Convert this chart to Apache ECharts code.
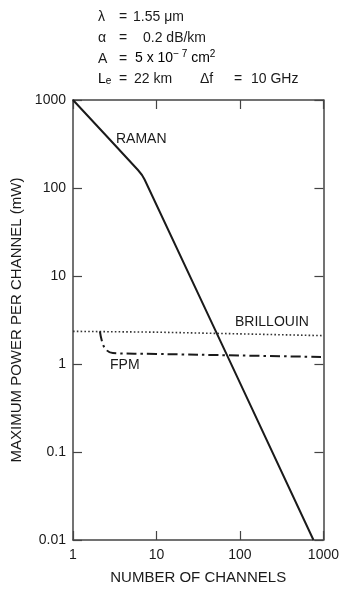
<!DOCTYPE html>
<html>
<head>
<meta charset="utf-8">
<script src="https://cdn.jsdelivr.net/npm/echarts@6/dist/echarts.min.js"></script>
<style>
  html, body { margin: 0; padding: 0; background: #fff; }
  #chart { width: 342px; height: 590px; }
</style>
</head>
<body>
<div id="chart"></div>
<script>
// 数据
const ramanN = [1, 6, 7.2, 760]
const ramanP = [1000, 160, 125, 0.01]
const brillouinN = [1, 10, 100, 1000]
const brillouinP = [2.35, 2.3, 2.2, 2.1]
const fpmN = [2.1, 2.25, 2.5, 3, 10, 100, 1000]
const fpmP = [2.35, 1.75, 1.45, 1.33, 1.3, 1.25, 1.2]
const xTicks = [1, 10, 100, 1000]
const yTicks = [0.01, 0.1, 1, 10, 100, 1000]

const FONT = '"Liberation Sans", Arial, Helvetica, sans-serif'
const INK = '#1a1a1a'
const AXIS = '#444'

function pairs(xs, ys) {
  return xs.map((x, i) => [x, ys[i]])
}

function fmt(v) {
  return String(+(+v).toPrecision(1))
}

const chart = echarts.init(document.getElementById('chart'), null, { renderer: 'canvas' })

const axisLine = { show: true, onZero: false, lineStyle: { color: AXIS, width: 1.5 } }
const tickIn = { show: true, inside: true, length: 9, lineStyle: { color: AXIS, width: 1.2 } }

// 参数文字
function paramText(x, y, text, extra) {
  return {
    type: 'text',
    left: x,
    top: y,
    style: Object.assign({
      text: text,
      font: '14px ' + FONT,
      fill: INK
    }, extra || {})
  }
}

const rich = {
  n: { fontSize: 14, fontFamily: FONT, color: INK, lineHeight: 16, verticalAlign: 'bottom' },
  sup: { fontSize: 10, fontFamily: FONT, color: INK, lineHeight: 10, verticalAlign: 'top' },
  sub: { fontSize: 10, fontFamily: FONT, color: INK, lineHeight: 10, verticalAlign: 'bottom' }
}

chart.setOption({
  animation: false,
  backgroundColor: '#fff',
  grid: { left: 73, right: 17, top: 100, bottom: 47 },
  xAxis: [
    {
      type: 'log',
      logBase: 10,
      min: 1,
      max: 1000,
      position: 'bottom',
      name: 'NUMBER OF CHANNELS',
      nameLocation: 'middle',
      nameGap: 30,
      nameTextStyle: { fontFamily: FONT, fontSize: 15, color: INK },
      axisLine: axisLine,
      axisTick: tickIn,
      minorTick: { show: false },
      splitLine: { show: false },
      axisLabel: {
        fontFamily: FONT, fontSize: 14, color: INK, margin: 8,
        customValues: xTicks, formatter: fmt
      }
    },
    {
      type: 'log',
      logBase: 10,
      min: 1,
      max: 1000,
      position: 'top',
      axisLine: axisLine,
      axisTick: tickIn,
      splitLine: { show: false },
      axisLabel: { show: false }
    }
  ],
  yAxis: [
    {
      type: 'log',
      logBase: 10,
      min: 0.01,
      max: 1000,
      position: 'left',
      name: 'MAXIMUM POWER PER CHANNEL (mW)',
      nameLocation: 'middle',
      nameGap: 43,
      nameTextStyle: { fontFamily: FONT, fontSize: 15, color: INK },
      axisLine: axisLine,
      axisTick: tickIn,
      splitLine: { show: false },
      axisLabel: {
        fontFamily: FONT, fontSize: 14, color: INK, margin: 7,
        customValues: yTicks, formatter: fmt
      }
    },
    {
      type: 'log',
      logBase: 10,
      min: 0.01,
      max: 1000,
      position: 'right',
      axisLine: axisLine,
      axisTick: tickIn,
      splitLine: { show: false },
      axisLabel: { show: false }
    }
  ],
  series: [
    {
      name: 'RAMAN',
      type: 'line',
      data: pairs(ramanN, ramanP),
      showSymbol: false,
      smooth: 0.15,
      lineStyle: { color: INK, width: 2 }
    },
    {
      name: 'BRILLOUIN',
      type: 'line',
      data: pairs(brillouinN, brillouinP),
      showSymbol: false,
      lineStyle: { color: '#333', width: 1.6, type: [1.6, 2.2] }
    },
    {
      name: 'FPM',
      type: 'line',
      data: pairs(fpmN, fpmP),
      showSymbol: false,
      smooth: 0.4,
      lineStyle: { color: INK, width: 2, type: [10, 4, 2.5, 4] }
    }
  ],
  graphic: [
    // 曲线标注
    paramText(116, 132, 'RAMAN'),
    paramText(235, 315, 'BRILLOUIN'),
    paramText(110, 358, 'FPM'),
    // 参数
    paramText(98, 10, 'λ'),
    paramText(119, 10, '='),
    paramText(133, 10, '1.55 μm'),
    paramText(98, 31, 'α'),
    paramText(119, 31, '='),
    paramText(143, 31, '0.2 dB/km'),
    paramText(98, 52, 'A'),
    paramText(119, 52, '='),
    {
      type: 'text',
      left: 135,
      top: 49,
      style: { text: '{n|5 x 10}{sup|− 7}{n| cm}{sup|2}', rich: rich }
    },
    {
      type: 'text',
      left: 98,
      top: 72,
      style: { text: '{n|L}{sub|e}', rich: rich }
    },
    paramText(119, 72, '='),
    paramText(134, 72, '22 km'),
    paramText(200, 72, 'Δf'),
    paramText(234, 72, '='),
    paramText(251, 72, '10 GHz')
  ]
})
</script>
</body>
</html>
